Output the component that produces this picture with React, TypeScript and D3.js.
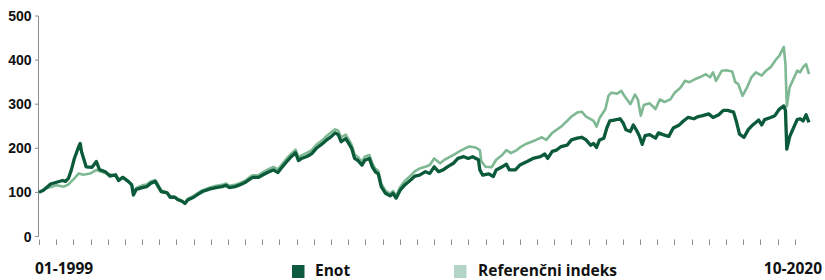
import React from 'react';
import * as d3 from 'd3';

const enotDates = [
  '1999-01-01', '1999-02-15', '1999-05-01', '1999-07-01', '1999-09-01', '1999-10-01', '1999-11-01', '1999-12-01',
  '2000-01-01', '2000-02-15', '2000-03-01', '2000-03-15', '2000-04-15', '2000-05-01', '2000-07-01', '2000-08-15',
  '2000-09-15', '2000-11-15', '2001-01-01', '2001-03-01', '2001-04-01', '2001-05-15', '2001-07-15', '2001-08-15',
  '2001-09-01', '2001-10-01', '2001-12-01', '2002-01-15', '2002-03-01', '2002-04-15', '2002-05-15', '2002-06-15',
  '2002-08-15', '2002-09-15', '2002-11-01', '2002-12-01', '2003-01-15', '2003-02-15', '2003-03-15', '2003-05-15',
  '2003-07-01', '2003-08-15', '2003-11-01', '2004-01-01', '2004-03-01', '2004-04-15', '2004-05-15', '2004-07-15',
  '2004-09-01', '2004-11-01', '2004-12-15', '2005-01-15', '2005-03-15', '2005-05-01', '2005-07-01', '2005-08-15',
  '2005-10-01', '2005-11-15', '2006-01-01', '2006-02-15', '2006-04-01', '2006-05-01', '2006-06-01', '2006-08-01',
  '2006-09-15', '2006-11-01', '2007-01-01', '2007-02-15', '2007-04-01', '2007-05-15', '2007-06-15', '2007-07-15',
  '2007-09-01', '2007-10-01', '2007-11-01', '2007-12-01', '2008-01-01', '2008-02-15', '2008-03-15', '2008-05-01',
  '2008-06-01', '2008-07-01', '2008-08-01', '2008-09-01', '2008-10-15', '2008-12-01', '2009-01-01', '2009-02-01',
  '2009-03-15', '2009-05-01', '2009-07-01', '2009-08-15', '2009-10-01', '2009-12-01', '2010-01-15', '2010-03-01',
  '2010-04-15', '2010-06-01', '2010-07-15', '2010-09-15', '2010-11-01', '2011-01-01', '2011-02-15', '2011-04-01',
  '2011-06-01', '2011-06-15', '2011-07-15', '2011-09-15', '2011-11-01', '2011-12-01', '2012-02-01', '2012-03-15',
  '2012-04-15', '2012-06-15', '2012-08-01', '2012-10-15', '2012-12-15', '2013-03-01', '2013-04-15', '2013-05-15',
  '2013-07-01', '2013-08-15', '2013-10-01', '2013-12-01', '2014-01-15', '2014-03-15', '2014-05-01', '2014-06-15',
  '2014-08-01', '2014-09-01', '2014-10-01', '2014-11-01', '2014-12-15', '2015-01-15', '2015-02-15', '2015-04-01',
  '2015-06-01', '2015-07-01', '2015-08-01', '2015-09-15', '2015-10-15', '2015-11-15', '2015-12-15', '2016-01-15',
  '2016-02-15', '2016-04-01', '2016-06-01', '2016-07-01', '2016-08-15', '2016-10-15', '2016-12-01', '2017-02-01',
  '2017-03-15', '2017-05-01', '2017-07-01', '2017-08-15', '2017-10-01', '2017-12-01', '2018-01-15', '2018-03-15',
  '2018-05-01', '2018-06-15', '2018-08-15', '2018-09-15', '2018-10-15', '2018-12-01', '2019-01-15', '2019-03-01',
  '2019-05-01', '2019-06-01', '2019-07-01', '2019-09-01', '2019-10-15', '2019-12-01', '2020-01-15', '2020-02-01',
  '2020-02-15', '2020-03-15', '2020-04-15', '2020-06-01', '2020-07-01', '2020-08-01', '2020-09-01', '2020-10-01',
];
const enotValues = [
  100, 105, 119, 123, 127, 125, 132, 151,
  177, 204, 211, 192, 170, 158, 157, 170,
  152, 147, 137, 140, 127, 134, 124, 117,
  94, 107, 111, 113, 121, 125, 113, 102,
  99, 89, 89, 84, 80, 75, 83, 89,
  96, 102, 108, 111, 113, 116, 111, 113,
  117, 123, 130, 134, 134, 140, 147, 151,
  145, 158, 170, 181, 190, 172, 177, 182,
  188, 200, 210, 219, 226, 235, 231, 215,
  222, 211, 200, 177, 173, 162, 173, 177,
  158, 147, 142, 113, 98, 92, 98, 87,
  105, 117, 128, 137, 139, 147, 143, 158,
  147, 151, 158, 166, 177, 181, 177, 181,
  174, 151, 139, 142, 136, 151, 158, 164,
  151, 151, 162, 170, 177, 181, 187, 177,
  193, 196, 204, 207, 219, 223, 225, 219,
  207, 211, 202, 219, 223, 246, 262, 264,
  267, 258, 242, 238, 253, 242, 229, 209,
  229, 231, 223, 235, 231, 227, 246, 253,
  262, 270, 267, 272, 274, 278, 270, 276,
  286, 286, 282, 259, 232, 225, 243, 253,
  264, 253, 265, 270, 274, 289, 296, 286,
  198, 226, 242, 265, 267, 262, 276, 259,
];

const refDates = [
  '1999-01-01', '1999-03-15', '1999-07-01', '1999-09-15', '1999-11-01', '2000-01-01', '2000-02-15', '2000-04-01',
  '2000-06-15', '2000-08-15', '2000-10-01', '2000-12-01', '2001-02-15', '2001-04-01', '2001-05-15', '2001-07-15',
  '2001-08-15', '2001-09-01', '2001-10-01', '2001-12-01', '2002-01-15', '2002-03-01', '2002-04-15', '2002-05-15',
  '2002-06-15', '2002-08-15', '2002-09-15', '2002-11-01', '2002-12-01', '2003-01-15', '2003-02-15', '2003-03-15',
  '2003-05-15', '2003-07-01', '2003-08-15', '2003-11-01', '2004-01-01', '2004-03-01', '2004-04-15', '2004-05-15',
  '2004-07-15', '2004-09-01', '2004-11-01', '2004-12-15', '2005-01-15', '2005-03-15', '2005-05-01', '2005-07-01',
  '2005-08-15', '2005-10-01', '2005-11-15', '2006-01-01', '2006-02-15', '2006-04-01', '2006-05-01', '2006-06-01',
  '2006-08-01', '2006-09-15', '2006-11-01', '2007-01-01', '2007-02-15', '2007-04-01', '2007-05-15', '2007-06-15',
  '2007-07-15', '2007-09-01', '2007-10-01', '2007-11-01', '2007-12-01', '2008-01-01', '2008-02-15', '2008-03-15',
  '2008-05-01', '2008-06-01', '2008-07-01', '2008-08-01', '2008-09-01', '2008-10-15', '2008-12-01', '2009-01-01',
  '2009-02-01', '2009-03-15', '2009-05-01', '2009-07-01', '2009-08-15', '2009-10-01', '2009-12-01', '2010-01-15',
  '2010-03-01', '2010-05-01', '2010-06-15', '2010-08-15', '2010-10-01', '2010-11-15', '2011-01-15', '2011-03-01',
  '2011-05-01', '2011-06-15', '2011-07-01', '2011-08-15', '2011-10-15', '2011-12-01', '2012-02-01', '2012-03-15',
  '2012-05-01', '2012-07-01', '2012-08-15', '2012-10-15', '2012-12-01', '2013-01-15', '2013-03-15', '2013-05-01',
  '2013-07-01', '2013-08-15', '2013-10-01', '2013-12-01', '2014-01-15', '2014-03-15', '2014-05-01', '2014-06-15',
  '2014-08-01', '2014-09-01', '2014-10-01', '2014-11-01', '2015-01-01', '2015-02-01', '2015-03-01', '2015-05-01',
  '2015-06-15', '2015-07-15', '2015-09-15', '2015-11-01', '2015-12-01', '2016-01-01', '2016-02-01', '2016-04-01',
  '2016-06-01', '2016-07-15', '2016-09-01', '2016-11-01', '2016-12-15', '2017-02-15', '2017-04-01', '2017-05-15',
  '2017-07-15', '2017-09-01', '2017-11-01', '2017-12-15', '2018-01-15', '2018-02-15', '2018-04-15', '2018-06-01',
  '2018-08-01', '2018-09-01', '2018-10-01', '2018-11-15', '2019-01-01', '2019-02-15', '2019-04-01', '2019-06-01',
  '2019-07-15', '2019-09-01', '2019-11-01', '2019-12-01', '2020-01-15', '2020-02-01', '2020-02-15', '2020-03-15',
  '2020-04-15', '2020-06-01', '2020-07-01', '2020-08-01', '2020-09-01', '2020-10-01',
];
const refValues = [
  100, 109, 116, 113, 118, 132, 143, 140,
  143, 151, 147, 143, 139, 129, 135, 125,
  118, 97, 110, 116, 118, 125, 128, 117,
  105, 100, 91, 90, 86, 81, 76, 85,
  92, 99, 105, 111, 115, 117, 120, 115,
  117, 121, 127, 135, 139, 139, 146, 153,
  158, 152, 165, 177, 188, 197, 180, 184,
  190, 196, 208, 218, 228, 236, 243, 240,
  225, 231, 220, 208, 186, 181, 170, 181,
  185, 166, 154, 149, 120, 104, 97, 103,
  92, 112, 126, 138, 148, 154, 158, 162,
  177, 166, 174, 181, 187, 193, 200, 204,
  202, 196, 170, 158, 157, 174, 185, 196,
  189, 196, 204, 211, 215, 219, 225, 219,
  235, 242, 249, 262, 272, 281, 283, 272,
  266, 262, 249, 268, 289, 319, 326, 324,
  330, 319, 300, 322, 311, 274, 298, 302,
  289, 311, 305, 311, 326, 338, 353, 350,
  357, 361, 368, 361, 372, 353, 376, 377,
  374, 350, 346, 319, 338, 361, 372, 365,
  376, 384, 403, 410, 430, 391, 295, 338,
  353, 376, 372, 384, 391, 368,
];

const yTicks = [0, 100, 200, 300, 400, 500];
const startLabel = '01-1999';
const endLabel = '10-2020';
const seriesNames = ['Enot', 'Referenčni indeks'];

const parse = d3.timeParse('%Y-%m-%d');

export default function App() {
  const width = 825;
  const height = 280;

  const x = d3.scaleTime()
    .domain([parse('1999-01-01')!, parse('2020-10-01')!])
    .range([39, 809]);
  const y = d3.scaleLinear().domain([0, 500]).range([236.5, 16]);

  const enot = enotDates.map((d, i) => ({ date: parse(d)!, value: enotValues[i] }));
  const ref = refDates.map((d, i) => ({ date: parse(d)!, value: refValues[i] }));

  const line = d3.line<{ date: Date; value: number }>()
    .x(d => x(d.date))
    .y(d => y(d.value));

  // small ticks roughly every 177 days, like the original axis
  const start = parse('1999-01-01')!;
  const xTicks = d3.range(45).map(i => d3.timeDay.offset(start, Math.round(i * 177.2)));

  const labelFont = '"Open Sans", "Noto Sans", sans-serif';

  return (
    <svg width={width} height={height} style={{ position: 'absolute', left: 0, top: 0, background: '#fff' }}>
      <g>
        <line x1={38.5} x2={38.5} y1={y(500)} y2={y(0)} stroke="#8c8c8c" strokeWidth={1} />
        {yTicks.map(t => (
          <g key={t} transform={`translate(0,${y(t)})`}>
            <line x1={35} x2={38.5} stroke="#8c8c8c" />
            <text x={31.5} y={5} textAnchor="end" fontSize={14} fontWeight="bold"
              fontFamily='"Liberation Sans", Arial, sans-serif' fill="#111">{t}</text>
          </g>
        ))}
      </g>

      <g>
        {xTicks.map((t, i) => (
          <line key={i} x1={Math.round(x(t)) + 0.5} x2={Math.round(x(t)) + 0.5} y1={239.5} y2={245}
            stroke="#8c8c8c" strokeWidth={1} />
        ))}
      </g>

      <path d={line(ref) ?? ''} fill="none" stroke="#4e9e69" strokeOpacity={0.72} strokeWidth={2.6}
        strokeLinejoin="round" />
      <path d={line(enot) ?? ''} fill="none" stroke="#0b5a3a" strokeWidth={3.3} strokeLinejoin="round" />

      <text x={35} y={273.5} fontSize={15.5} fontWeight="bold" fontFamily={labelFont} fill="#111">{startLabel}</text>
      <text x={822} y={273.5} textAnchor="end" fontSize={15.5} fontWeight="bold" fontFamily={labelFont} fill="#111">{endLabel}</text>

      <g>
        <rect x={292} y={265} width={12.5} height={13} fill="#0e5a40" />
        <text x={315} y={275.5} fontSize={15.5} fontWeight="bold" fontFamily={labelFont} fill="#111">{seriesNames[0]}</text>
        <rect x={454} y={265} width={12.5} height={13} fill="#b4d4c6" />
        <text x={478} y={275.5} fontSize={15.5} fontWeight="bold" fontFamily={labelFont} fill="#111">{seriesNames[1]}</text>
      </g>
    </svg>
  );
}
